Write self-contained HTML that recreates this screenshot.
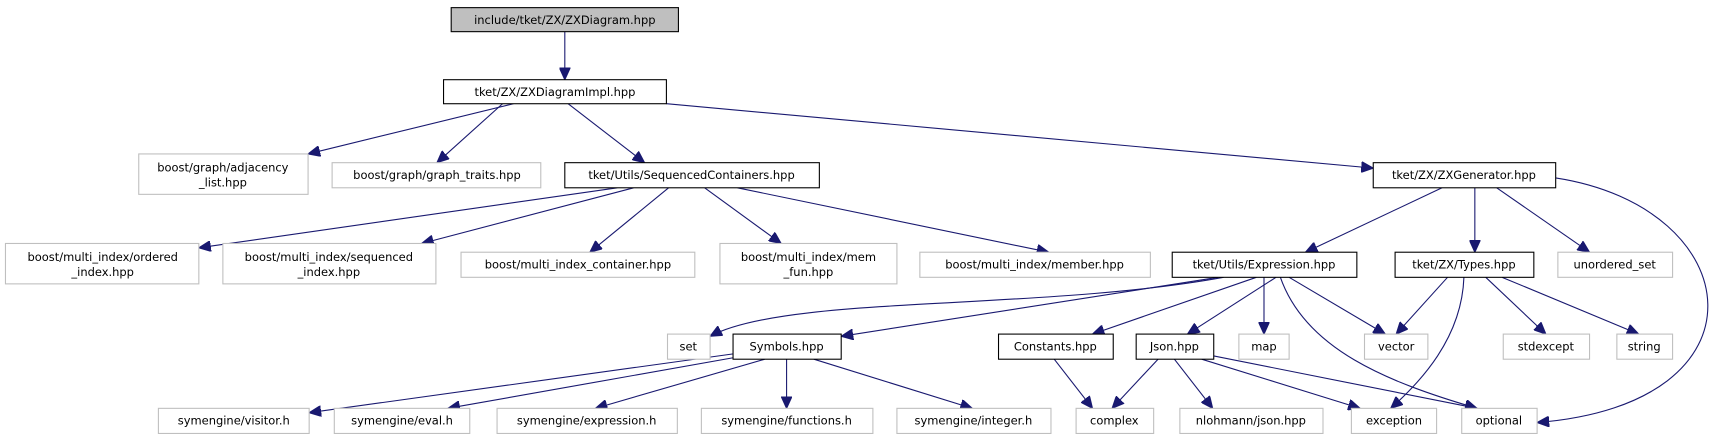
<!DOCTYPE html>
<html><head><meta charset="utf-8"><style>
html,body{margin:0;padding:0;background:#fff;}
svg{display:block;}
text{font-family:"DejaVu Sans","Liberation Sans",sans-serif;font-size:10.5px;fill:#000;}
</style></head><body>
<svg width="1713" height="440" viewBox="0 0 1568 403" preserveAspectRatio="none" xmlns="http://www.w3.org/2000/svg">
<defs>
<marker id="a" markerUnits="userSpaceOnUse" markerWidth="12" markerHeight="10" refX="11" refY="5" orient="auto">
<path d="M0,0 L11,5 L0,10 Z" fill="#191970" stroke="#191970"/>
</marker>
</defs>
<g stroke="#191970" stroke-width="1" fill="none" marker-end="url(#a)">
<path d="M517,29 L517,73"/>
<path d="M470,95 L282,141"/>
<path d="M460,95 L400,149"/>
<path d="M520,95 L590,149"/>
<path d="M610,95 L1257,154"/>
<path d="M565,172 L182,227"/>
<path d="M580,172 L386,223"/>
<path d="M612,172 L540,231"/>
<path d="M645,172 L715,223"/>
<path d="M675,172 L960,231"/>
<path d="M1320,172 L1195,231"/>
<path d="M1350,172 L1350,231"/>
<path d="M1370,172 L1455,231"/>
<path d="M1424,163 C1600,190 1625,370 1407,387"/>
<path d="M1120,254 C950,285 720,270 650,308"/>
<path d="M1115,254 L770,308"/>
<path d="M1150,254 L1000,306"/>
<path d="M1168,254 L1087,306"/>
<path d="M1157,254 L1157,306"/>
<path d="M1172,254 C1195,320 1270,350 1352,374"/>
<path d="M1180,254 L1268,306"/>
<path d="M1325,254 L1278,306"/>
<path d="M1340,254 C1338,310 1300,350 1273,374"/>
<path d="M1360,254 L1415,306"/>
<path d="M1375,254 L1500,306"/>
<path d="M672,324 L283,378"/>
<path d="M675,327 L410,374"/>
<path d="M700,329 L545,374"/>
<path d="M720,329 L720,374"/>
<path d="M745,329 L890,374"/>
<path d="M965,329 L1000,374"/>
<path d="M1060,329 L1018,374"/>
<path d="M1075,329 L1110,374"/>
<path d="M1100,329 L1245,374"/>
<path d="M1111,326 L1352,374"/>
</g>
<g stroke-width="1">
<rect x="413" y="7" width="208" height="22" fill="#bfbfbf" stroke="#000"/>
<rect x="406" y="73" width="204" height="22" fill="#fff" stroke="#000"/>
<rect x="127" y="141" width="155" height="37" fill="#fff" stroke="#bfbfbf"/>
<rect x="304" y="149" width="191" height="23" fill="#fff" stroke="#bfbfbf"/>
<rect x="517" y="149" width="233" height="23" fill="#fff" stroke="#000"/>
<rect x="1257" y="149" width="167" height="23" fill="#fff" stroke="#000"/>
<rect x="5" y="223" width="177" height="37" fill="#fff" stroke="#bfbfbf"/>
<rect x="204" y="223" width="195" height="37" fill="#fff" stroke="#bfbfbf"/>
<rect x="422" y="231" width="214" height="23" fill="#fff" stroke="#bfbfbf"/>
<rect x="659" y="223" width="162" height="37" fill="#fff" stroke="#bfbfbf"/>
<rect x="842" y="231" width="211" height="23" fill="#fff" stroke="#bfbfbf"/>
<rect x="1073" y="231" width="169" height="23" fill="#fff" stroke="#000"/>
<rect x="1277" y="231" width="127" height="23" fill="#fff" stroke="#000"/>
<rect x="1426" y="231" width="105" height="23" fill="#fff" stroke="#bfbfbf"/>
<rect x="611" y="306" width="39" height="23" fill="#fff" stroke="#bfbfbf"/>
<rect x="671" y="306" width="99" height="23" fill="#fff" stroke="#000"/>
<rect x="914" y="306" width="105" height="23" fill="#fff" stroke="#000"/>
<rect x="1040" y="306" width="71" height="23" fill="#fff" stroke="#000"/>
<rect x="1134" y="306" width="46" height="23" fill="#fff" stroke="#bfbfbf"/>
<rect x="1249" y="306" width="58" height="23" fill="#fff" stroke="#bfbfbf"/>
<rect x="1376" y="306" width="79" height="23" fill="#fff" stroke="#bfbfbf"/>
<rect x="1480" y="306" width="51" height="23" fill="#fff" stroke="#bfbfbf"/>
<rect x="145" y="374" width="138" height="23" fill="#fff" stroke="#bfbfbf"/>
<rect x="306" y="374" width="124" height="23" fill="#fff" stroke="#bfbfbf"/>
<rect x="455" y="374" width="165" height="23" fill="#fff" stroke="#bfbfbf"/>
<rect x="642" y="374" width="157" height="23" fill="#fff" stroke="#bfbfbf"/>
<rect x="821" y="374" width="141" height="23" fill="#fff" stroke="#bfbfbf"/>
<rect x="985" y="374" width="71" height="23" fill="#fff" stroke="#bfbfbf"/>
<rect x="1080" y="374" width="131" height="23" fill="#fff" stroke="#bfbfbf"/>
<rect x="1237" y="374" width="78" height="23" fill="#fff" stroke="#bfbfbf"/>
<rect x="1338" y="374" width="69" height="23" fill="#fff" stroke="#bfbfbf"/>
</g>
<g text-anchor="middle">
<text x="517" y="22">include/tket/ZX/ZXDiagram.hpp</text>
<text x="508" y="88">tket/ZX/ZXDiagramImpl.hpp</text>
<text x="204" y="157">boost/graph/adjacency</text>
<text x="204" y="171">_list.hpp</text>
<text x="400" y="164">boost/graph/graph_traits.hpp</text>
<text x="633" y="164">tket/Utils/SequencedContainers.hpp</text>
<text x="1340" y="164">tket/ZX/ZXGenerator.hpp</text>
<text x="94" y="239">boost/multi_index/ordered</text>
<text x="94" y="253">_index.hpp</text>
<text x="301" y="239">boost/multi_index/sequenced</text>
<text x="301" y="253">_index.hpp</text>
<text x="529" y="246">boost/multi_index_container.hpp</text>
<text x="740" y="239">boost/multi_index/mem</text>
<text x="740" y="253">_fun.hpp</text>
<text x="947" y="246">boost/multi_index/member.hpp</text>
<text x="1157" y="246">tket/Utils/Expression.hpp</text>
<text x="1340" y="246">tket/ZX/Types.hpp</text>
<text x="1478" y="246">unordered_set</text>
<text x="630" y="321">set</text>
<text x="720" y="321">Symbols.hpp</text>
<text x="966" y="321">Constants.hpp</text>
<text x="1075" y="321">Json.hpp</text>
<text x="1157" y="321">map</text>
<text x="1278" y="321">vector</text>
<text x="1415" y="321">stdexcept</text>
<text x="1505" y="321">string</text>
<text x="214" y="389">symengine/visitor.h</text>
<text x="368" y="389">symengine/eval.h</text>
<text x="537" y="389">symengine/expression.h</text>
<text x="720" y="389">symengine/functions.h</text>
<text x="891" y="389">symengine/integer.h</text>
<text x="1020" y="389">complex</text>
<text x="1145" y="389">nlohmann/json.hpp</text>
<text x="1276" y="389">exception</text>
<text x="1372" y="389">optional</text>
</g>
</svg>
</body></html>
